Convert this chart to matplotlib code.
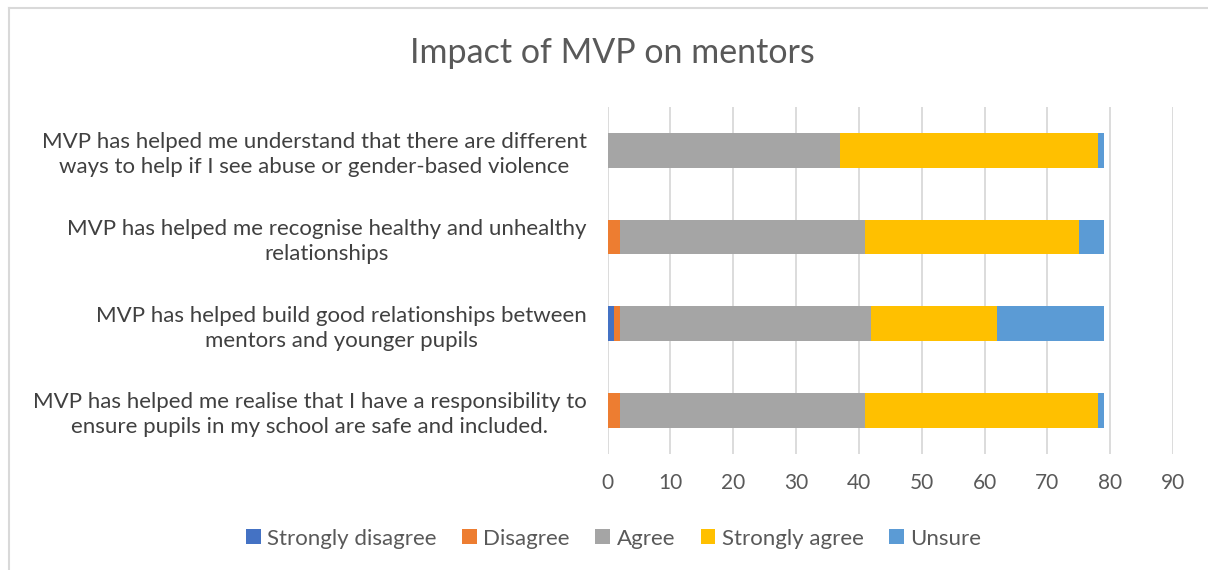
import numpy as np
import matplotlib.pyplot as plt
from matplotlib.lines import Line2D

plt.rcParams['font.family'] = ['Lato', 'DejaVu Sans']

# categories, top to bottom as shown
statements = ["MVP has helped me understand that there are different\nways to help if I see abuse or gender-based violence",
              "MVP has helped me recognise healthy and unhealthy\nrelationships",
              "MVP has helped build good relationships between\nmentors and younger pupils",
              "MVP has helped me realise that I have a responsibility to\nensure pupils in my school are safe and included."]
responses = ["Strongly disagree", "Disagree", "Agree", "Strongly agree", "Unsure"]
strongly_disagree = [0, 0, 1, 0]
disagree = [0, 2, 1, 2]
agree = [37, 39, 40, 39]
strongly_agree = [41, 34, 20, 37]
unsure = [1, 4, 17, 1]
colors = ["#4472C4", "#ED7D31", "#A5A5A5", "#FFC000", "#5B9BD5"]

series = [strongly_disagree, disagree, agree, strongly_agree, unsure]

fig = plt.figure(figsize=(12.08, 5.70), dpi=100)
ax = fig.add_axes([0.503, 0.204, 0.468, 0.608])

y = np.arange(len(statements))
left = np.zeros(len(statements))
for vals, name, c in zip(series, responses, colors):
    ax.barh(y, vals, left=left, height=0.4, color=c, label=name, zorder=3)
    left += np.array(vals)

ax.set_xlim(0, 90)
ax.set_ylim(len(statements) - 0.5, -0.5)
ax.set_xticks(range(0, 91, 10))
ax.set_yticks(y)
ax.set_yticklabels(statements, multialignment='center', linespacing=1.3)
ax.grid(axis='x', color='#D9D9D9', linewidth=1.3, zorder=0)
for s in ax.spines.values():
    s.set_visible(False)
ax.tick_params(axis='x', length=0, colors='#595959', labelsize=15, pad=14)
ax.tick_params(axis='y', length=0, colors='#404040', labelsize=16, pad=15)

fig.text(0.507, 0.907, "Impact of MVP on mentors", ha='center', va='center',
         fontsize=24.5, color='#595959')

fig.legend(loc='center', bbox_to_anchor=(0.508, 0.055), ncol=5, frameon=False,
           fontsize=16, labelcolor='#595959', handlelength=0.65, handleheight=0.65,
           handletextpad=0.3, columnspacing=1.15)

# chart frame
fig.add_artist(Line2D([9 / 1208, 9 / 1208], [0, 1 - 8 / 570], color='#D9D9D9', lw=1.5))
fig.add_artist(Line2D([9 / 1208, 1], [1 - 8 / 570, 1 - 8 / 570], color='#D9D9D9', lw=1.5))

fig.savefig("out.png", dpi=100, facecolor='white')
